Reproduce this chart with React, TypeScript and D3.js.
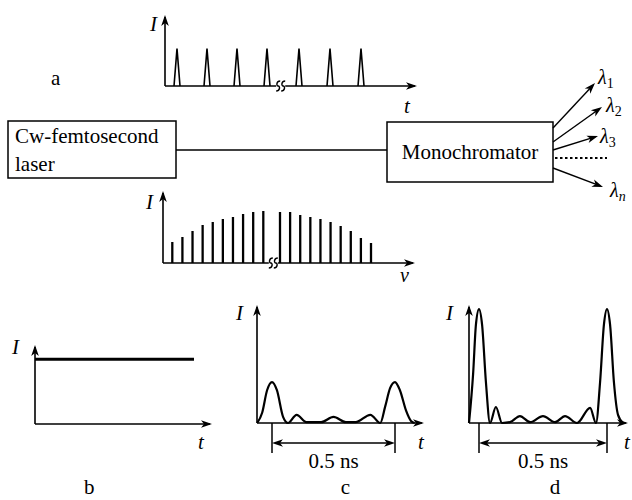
import * as React from "react";
import * as d3 from "d3";

// pulse train (a): pulse index, relative height
const pulseIndex = [1, 2, 3, 4, 5, 6, 7];
const pulseHeight = [1, 1, 1, 1, 1, 1, 1];
// comb spectrum: mode number and intensity (arb. units)
const modeIndex = [1, 2, 3, 4, 5, 6, 7, 8, 9, 10, 11, 12, 13, 14, 15, 16, 17, 18, 19, 20];
const modeIntensity = [21, 26, 32, 38, 41, 44, 46, 49, 51, 52, 51, 51, 48, 46, 44, 41, 37, 32, 25, 20];
// (b) cw level
const cwTime = [0, 1];
const cwLevel = [1, 1];
// (c) few modes, t in ns
const cTime = [-0.06, -0.04, -0.02, 0, 0.02, 0.045, 0.065, 0.1, 0.14, 0.2, 0.25, 0.3, 0.34, 0.4, 0.44, 0.46, 0.48, 0.5, 0.52, 0.545, 0.565, 0.58];
const cInt = [0, 0.25, 0.8, 1, 0.8, 0.15, 0, 0.2, 0.02, 0.02, 0.15, 0.02, 0.02, 0.2, 0, 0.4, 0.85, 1, 0.8, 0.3, 0.05, 0];
// (d) more modes
const dTime = [-0.039, -0.023, -0.012, 0, 0.012, 0.027, 0.043, 0.066, 0.09, 0.121, 0.16, 0.2, 0.25, 0.297, 0.336, 0.383, 0.434, 0.457, 0.473, 0.488, 0.5, 0.512, 0.527, 0.543, 0.563];
const dInt = [0, 1.2, 2.4, 2.78, 2.4, 1.0, 0, 0.39, 0, 0.02, 0.17, 0.02, 0.17, 0.02, 0.17, 0, 0.37, 0, 1.0, 2.4, 2.78, 2.4, 1.0, 0.2, 0];
const lambdaLabels = ["1", "2", "3", "n"];

const SERIF = "'Liberation Serif', 'DejaVu Serif', serif";

export default function App() {
  const ref = React.useRef<SVGSVGElement | null>(null);

  React.useEffect(() => {
    const svg = d3.select(ref.current);
    svg.selectAll("*").remove();

    const arrowHead = (x: number, y: number, angle: number) => {
      svg
        .append("path")
        .attr("d", "M0,0 L-11,-3.8 L-8,0 L-11,3.8 Z")
        .attr("transform", `translate(${x},${y}) rotate(${angle})`)
        .attr("fill", "#000");
    };
    const line = (x1: number, y1: number, x2: number, y2: number, w = 1.6) =>
      svg
        .append("line")
        .attr("x1", x1)
        .attr("y1", y1)
        .attr("x2", x2)
        .attr("y2", y2)
        .attr("stroke", "#000")
        .attr("stroke-width", w);
    const text = (x: number, y: number, s: string, size = 21, italic = false, anchor = "start") =>
      svg
        .append("text")
        .attr("x", x)
        .attr("y", y)
        .attr("font-family", SERIF)
        .attr("font-size", size)
        .attr("font-style", italic ? "italic" : "normal")
        .attr("text-anchor", anchor)
        .text(s);
    // axes: y up, x right, both with arrows
    const axes = (x0: number, y0: number, yTop: number, xEnd: number) => {
      line(x0, y0, x0, yTop + 2);
      arrowHead(x0, yTop, -90);
      line(x0, y0, xEnd - 2, y0);
      arrowHead(xEnd, y0, 0);
    };
    const breakMark = (x: number, y: number) => {
      svg.append("rect").attr("x", x - 2).attr("y", y - 2).attr("width", 9).attr("height", 4).attr("fill", "#fff");
      [0, 5].forEach((dx) => {
        const cx = x + dx;
        svg
          .append("path")
          .attr("d", `M${cx + 2},${y - 5} C${cx - 2},${y - 5} ${cx - 2},${y} ${cx},${y} C${cx + 2},${y} ${cx + 2},${y + 5} ${cx - 2},${y + 5}`)
          .attr("fill", "none")
          .attr("stroke", "#000")
          .attr("stroke-width", 1.4);
      });
    };

    // ---- (a) pulse train
    const xA = d3.scaleLinear().domain([1, 4, 5, 7]).range([177, 267, 299, 361]);
    const yA = d3.scaleLinear().domain([0, 1.9]).range([86, 15]);
    axes(165, yA(0), yA(1.9), 417);
    pulseIndex.forEach((p, i) => {
      const x = xA(p);
      svg
        .append("path")
        .attr("d", `M${x - 3},${yA(0)} L${x},${yA(pulseHeight[i])} L${x + 3},${yA(0)}`)
        .attr("fill", "none")
        .attr("stroke", "#000")
        .attr("stroke-width", 1.6);
    });
    breakMark(xA(4.35), yA(0));
    text(150, 31, "I", 21, true);
    text(404, 113, "t", 21, true);
    text(51, 85, "a");

    // ---- boxes
    svg.append("rect").attr("x", 8).attr("y", 121).attr("width", 168).attr("height", 57).attr("fill", "none").attr("stroke", "#000").attr("stroke-width", 1.5);
    text(15, 143, "Cw-femtosecond");
    text(15, 171, "laser");
    line(176, 150, 387, 150, 1.5);
    svg.append("rect").attr("x", 387).attr("y", 122).attr("width", 166).attr("height", 60).attr("fill", "none").attr("stroke", "#000").attr("stroke-width", 1.5);
    text(470, 159, "Monochromator", 21, false, "middle");

    // ---- output wavelengths
    const lamStart = [[553, 128], [553, 142], [553, 150], [553, 168]];
    const lamEnd = [[595, 83], [602, 107], [598, 136], [603, 187]];
    const lamText = [[598, 84], [606, 112], [600, 143], [610, 197]];
    lambdaLabels.forEach((l, i) => {
      const [x1, y1] = lamStart[i];
      const [x2, y2] = lamEnd[i];
      const a = (Math.atan2(y2 - y1, x2 - x1) * 180) / Math.PI;
      line(x1, y1, x2 - 3 * Math.cos((a * Math.PI) / 180), y2 - 3 * Math.sin((a * Math.PI) / 180), 1.4);
      arrowHead(x2, y2, a);
      const t = text(lamText[i][0], lamText[i][1], "λ", 20, true);
      t.append("tspan")
        .attr("font-size", 14)
        .attr("dy", 4)
        .attr("font-style", l === "n" ? "italic" : "normal")
        .text(l);
    });
    line(555, 158, 607, 158, 2).attr("stroke-dasharray", "2.5,2.5");

    // ---- comb spectrum
    const xS = d3.scaleLinear().domain([1, 10, 11, 20]).range([172.3, 263.3, 280, 371]);
    const yS = d3.scaleLinear().domain([0, 72]).range([263, 191]);
    axes(163, yS(0), yS(72), 415);
    modeIndex.forEach((m, i) => {
      line(xS(m), yS(0), xS(m), yS(modeIntensity[i]), 2.3);
    });
    breakMark(xS(10.45), yS(0));
    text(146, 209, "I", 21, true);
    text(400, 282, "ν", 20, true);

    // ---- (b) cw
    const xB = d3.scaleLinear().domain([0, 1]).range([35, 194]);
    const yB = d3.scaleLinear().domain([0, 1.22]).range([424, 345]);
    axes(xB(0), yB(0), yB(1.22), 212);
    svg
      .append("path")
      .attr("d", d3.line<number>().x((t) => xB(t)).y((_, i) => yB(cwLevel[i]))(cwTime) ?? "")
      .attr("fill", "none")
      .attr("stroke", "#000")
      .attr("stroke-width", 2.8);
    text(12, 354, "I", 21, true);
    text(198, 449, "t", 21, true);
    text(84, 494, "b");

    // ---- (c) and (d) mode-locked output
    const pulsePanel = (
      tArr: number[],
      iArr: number[],
      xRange: [number, number],
      x0: number,
      xEnd: number,
      label: string,
      ILabelX: number,
      tLabelX: number
    ) => {
      const x = d3.scaleLinear().domain([0, 0.5]).range(xRange);
      const y = d3.scaleLinear().domain([0, 2.88]).range([423, 305]);
      axes(x0, y(0), y(2.88), xEnd);
      const pts = tArr.map((t, i) => [t, iArr[i]] as [number, number]);
      svg
        .append("path")
        .attr("d", d3.line<[number, number]>().x((d) => x(d[0])).y((d) => y(d[1])).curve(d3.curveMonotoneX)(pts) ?? "")
        .attr("fill", "none")
        .attr("stroke", "#000")
        .attr("stroke-width", 2.2);
      // 0.5 ns dimension
      line(x(0), y(0), x(0), 453, 1.5);
      line(x(0.5), y(0), x(0.5), 453, 1.5);
      line(x(0) + 3, 443, x(0.5) - 3, 443, 1.5);
      arrowHead(x(0.5), 443, 0);
      arrowHead(x(0), 443, 180);
      text((x(0) + x(0.5)) / 2, 468, "0.5 ns", 21, false, "middle");
      text(ILabelX, 320, "I", 21, true);
      text(tLabelX, 449, "t", 21, true);
      text((x(0) + x(0.5)) / 2 + 12, 494, label, 21, false, "middle");
    };
    pulsePanel(cTime, cInt, [272, 395], 257, 424, "c", 236, 418);
    pulsePanel(dTime, dInt, [479, 607], 469, 628, "d", 446, 624);
  }, []);

  return (
    <svg
      ref={ref}
      width={632}
      height={500}
      style={{ position: "absolute", left: 0, top: 0, background: "#fff" }}
    />
  );
}
